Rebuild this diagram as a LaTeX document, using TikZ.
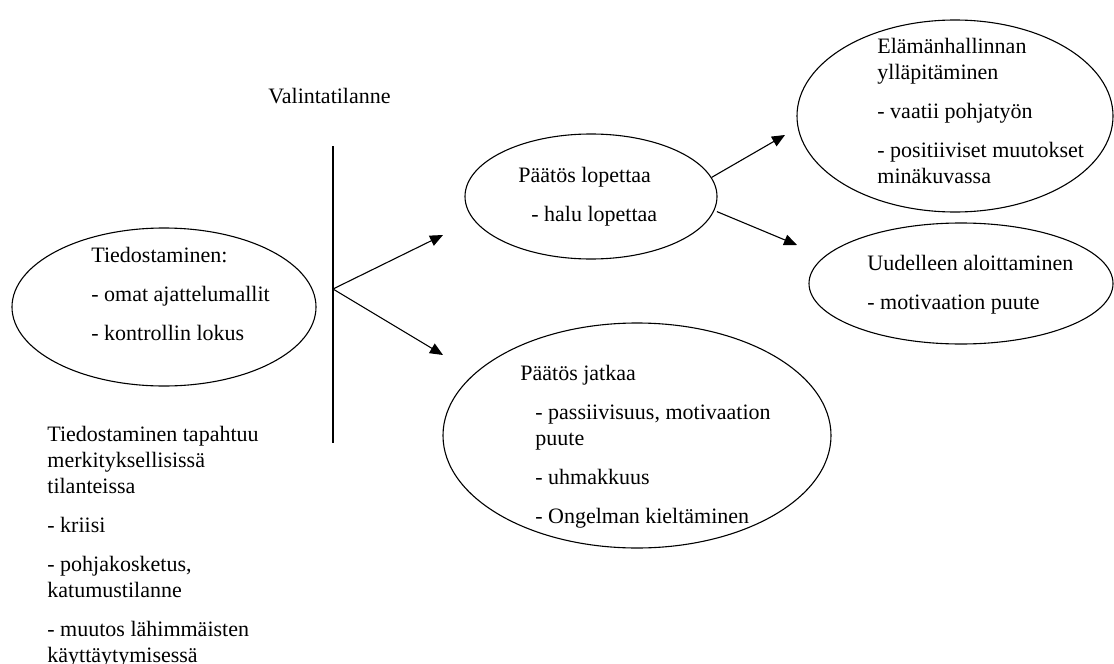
\documentclass[tikz,border=0pt]{standalone}
\usepackage{fontspec}
\setmainfont{Liberation Serif}
\usetikzlibrary{shapes.geometric,arrows.meta}

\tikzset{
  bubble/.style={draw, ellipse, inner sep=0pt, line width=0.55pt},
  txt/.style={anchor=base west, inner sep=0pt, align=left,
    font=\fontsize{11}{13}\selectfont},
  arr/.style={-{Triangle[length=6.5pt,width=5.5pt]}, line width=0.55pt}
}

\begin{document}
\begin{tikzpicture}[x=0.5pt,y=-0.5pt]
      \useasboundingbox (0,0) rectangle (1114,664);
      % ellipses
      \node[bubble, minimum width=152pt, minimum height=79pt] (tied) at (164,307) {};
      \node[bubble, minimum width=126pt, minimum height=62.5pt] (lop) at (591,196.5) {};
      \node[bubble, minimum width=194pt, minimum height=112.5pt] (jat) at (637,435.5) {};
      \node[bubble, minimum width=158pt, minimum height=96pt] (ela) at (955,116) {};
      \node[bubble, minimum width=152pt, minimum height=60.5pt] (uud) at (961,283.5) {};
      % texts (placed at the baseline of their last line)
      \node[txt] (valinta) at (268,103) {Valintatilanne};
      \node[txt] (tiedtxt) at (91,340) {Tiedostaminen:\\[6.5pt]
        - omat ajattelumallit\\[6.5pt]
        - kontrollin lokus};
      \node[txt] (tapahtuu) at (47,662) {Tiedostaminen tapahtuu\\
        merkityksellisissä\\
        tilanteissa\\[6.5pt]
        - kriisi\\[6.5pt]
        - pohjakosketus,\\
        katumustilanne\\[6.5pt]
        - muutos lähimmäisten\\
        käyttäytymisessä};
      \node[txt] (loptxt) at (518,221) {Päätös lopettaa\\[6.5pt]
        \hspace*{6.5pt}- halu lopettaa};
      \node[txt] (jattxt) at (520,523) {Päätös jatkaa\\[6.5pt]
        \hspace*{7.5pt}- passiivisuus, motivaation\\
        \hspace*{7.5pt}puute\\[6.5pt]
        \hspace*{7.5pt}- uhmakkuus\\[6.5pt]
        \hspace*{7.5pt}- Ongelman kieltäminen};
      \node[txt] (elatxt) at (877,183) {Elämänhallinnan\\
        ylläpitäminen\\[6.5pt]
        - vaatii pohjatyön\\[6.5pt]
        - positiiviset muutokset\\
        minäkuvassa};
      \node[txt] (uudtxt) at (867,309) {Uudelleen aloittaminen\\[6.5pt]
        - motivaation puute};
      % line and arrow ends
      \coordinate (vtop) at (333,146);
      \coordinate (vbot) at (333,443);
      \coordinate (branch) at (333,289);
      \coordinate (tlop) at (443,235);
      \coordinate (tjat) at (443,355);
      \coordinate (tela) at (785,135);
      \coordinate (tuud) at (797,245);
      \begin{scope}[line width=0.55pt]
        \draw (vtop) -- (vbot);
        \draw[arr] (branch) -- (tlop);
        \draw[arr] (branch) -- (tjat);
        \draw[arr] (lop.9) -- (tela);
        \draw[arr] ([xshift=1.5pt]lop.-7) -- (tuud);
      \end{scope}
    \end{tikzpicture}
\end{document}
